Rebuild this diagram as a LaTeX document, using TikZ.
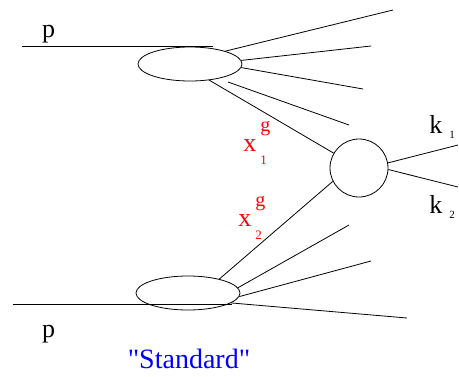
\documentclass[tikz,border=0pt]{standalone}
\usepackage{fontspec}
\setmainfont{Liberation Serif}
\usetikzlibrary{shapes.geometric}

\newcommand{\xglabel}[1]{x\rlap{\hspace{4pt}\raisebox{20pt}{\fontsize{20}{20}\selectfont g}}\hspace{4pt}\raisebox{-13pt}{\fontsize{13}{13}\selectfont #1}}
\newcommand{\klabel}[1]{k\hspace{7pt}\raisebox{-5pt}{\fontsize{11}{11}\selectfont #1}}

\begin{document}
\begin{tikzpicture}[x=1pt, y=-1pt, line width=0.8pt,
    hadron/.style={ellipse, draw, minimum width=104pt, minimum height=34pt, inner sep=0pt},
    hard/.style={circle, draw, minimum size=58pt, inner sep=0pt},
    lbl/.style={inner sep=0pt, font=\fontsize{26}{26}\selectfont}]
    \useasboundingbox (0,0) rectangle (459,376);

    % Blobs
    \node[hadron] (top) at (190,64) {};
    \node[hadron] (bot) at (188,293) {};
    \node[hard] (hs) at (359,168) {};

    % Top proton and its remnants
    \coordinate (pin1) at (22,46);
    \coordinate (pout1) at (213,46);
    \coordinate (r11) at (393,10);
    \coordinate (r12) at (371,46);
    \coordinate (r13) at (363,89);
    \coordinate (r14s) at (228,82);
    \coordinate (r14) at (349,125);
    \draw (pin1) -- (pout1);
    \draw (top.20) -- (r11);
    \draw (top.4) -- (r12);
    \draw (top.-4) -- (r13);
    \draw (r14s) -- (r14);
    \draw (top.-40) -- (hs);

    % Bottom proton and its remnants
    \coordinate (pin2) at (13,304);
    \coordinate (pout2) at (232,304);
    \coordinate (r21) at (349,225);
    \coordinate (r22) at (371,261);
    \coordinate (r23) at (407,318);
    \draw (pin2) -- (pout2);
    \draw (bot.24) -- (hs.207);
    \draw (bot.6) -- (r21);
    \draw (bot.-4) -- (r22);
    \draw (bot.-13) -- (r23);

    % Outgoing
    \coordinate (k1) at (458,145);
    \coordinate (k2) at (458,187);
    \draw (hs.10) -- (k1);
    \draw (hs.-3) -- (k2);

    % Labels
    \node[lbl, anchor=base] (ptop) at (48.5,37) {p};
    \node[lbl, anchor=base] (pbot) at (48.5,337) {p};
    \node[lbl, anchor=base west, red] (x1) at (243,151) {\xglabel{1}};
    \node[lbl, anchor=base west, red] (x2) at (238,226) {\xglabel{2}};
    \node[lbl, anchor=base west] (k1lbl) at (429,133) {\klabel{1}};
    \node[lbl, anchor=base west] (k2lbl) at (429,213) {\klabel{2}};
    \node[lbl, anchor=base, blue, font=\fontsize{28}{28}\selectfont] (std) at (189,368) {\textquotedbl Standard\textquotedbl};
\end{tikzpicture}
\end{document}
